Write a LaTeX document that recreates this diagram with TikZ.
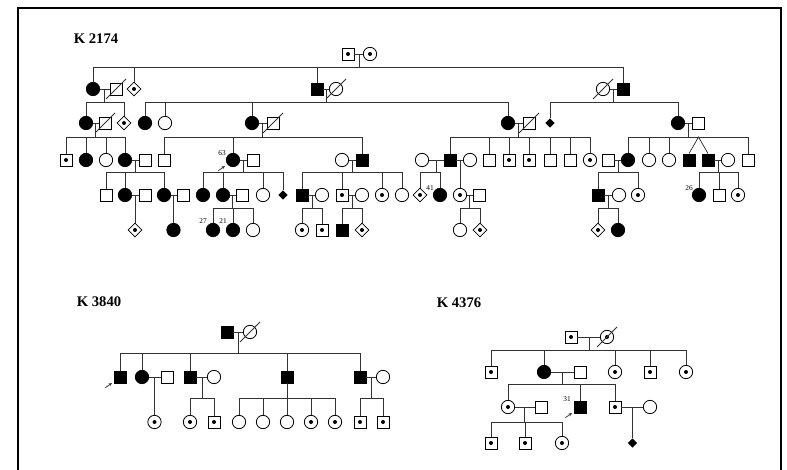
\documentclass[tikz,border=0pt]{standalone}
\usepackage{fontspec}
\setmainfont{Liberation Serif}
\usetikzlibrary{shapes.geometric,calc,arrows.meta}
\newcommand{\pedbar}[4]{%
  \draw[ln] (#1) -- (#1 |- 0,#2);
  \draw[ln] (#3.north |- 0,#2) -- (#4.north |- 0,#2);}
\newcommand{\pedup}[2]{\foreach \kid in {#2} {\draw[ln] (\kid.north) -- (\kid.north |- 0,#1);}}
\newcommand{\pdec}[1]{\draw[ln] ([shift={(-7.5pt,-7.5pt)}]#1.center) -- ([shift={(7.5pt,7.5pt)}]#1.center);}
\newcommand{\pmar}[2]{\draw[ln] (#1) -- (#2);}
\newcommand{\parr}[1]{\draw[ln,-{Stealth[length=2.6pt,width=2.2pt]}] ([shift={(-11pt,-8pt)}]#1.center) -- ([shift={(-6pt,-4.5pt)}]#1.center);}
\begin{document}
\begin{tikzpicture}[x=0.75pt,y=-0.75pt,
  ln/.style={line width=0.55pt,black!80},
  sq/.style={rectangle,draw,line width=0.6pt,minimum size=9pt,inner sep=0pt,fill=white},
  ci/.style={circle,draw,line width=0.6pt,minimum size=10pt,inner sep=0pt,fill=white},
  di/.style={diamond,draw,line width=0.6pt,minimum size=10.5pt,inner sep=0pt,fill=white},
  sdi/.style={diamond,fill=black,minimum size=7pt,inner sep=0pt},
  aff/.style={fill=black},
  car/.style={path picture={\fill[black] (path picture bounding box.center) circle (1.5pt);}},
  lab/.style={font=\fontsize{5.5}{6}\selectfont,inner sep=0pt},
  ttl/.style={font=\bfseries\fontsize{11}{13}\selectfont,inner sep=0pt}]
\useasboundingbox (0,0) rectangle (787,470);
\fill[white] (0,0) rectangle (787,470);
\draw[line width=1.4pt] (18,471) -- (18,8) -- (781,8) -- (781,471);

% ================= K 2174 =================
\node[ttl] (t1) at (96,39) {K 2174};
% Gen I
\node[sq,car] (p1) at (348,54) {};
\node[ci,car] (p2) at (370,54) {};
\pmar{p1}{p2}
% Gen II
\node[ci,aff] (a1) at (93,89) {};
\node[sq] (a2) at (116,89) {}; \pdec{a2}
\node[di,car] (a3) at (134,89) {};
\node[sq,aff] (a4) at (317,89) {};
\node[ci] (a5) at (336,89) {}; \pdec{a5}
\node[ci] (a6) at (603,89) {}; \pdec{a6}
\node[sq,aff] (a7) at (623,89) {};
\pmar{a1}{a2} \pmar{a4}{a5} \pmar{a6}{a7}
\coordinate (m0) at ($(p1)!0.5!(p2)$);
\pedbar{m0}{67}{a1}{a7} \pedup{67}{a1,a3,a4,a7}
% Gen III
\node[ci,aff] (b1) at (86,123) {};
\node[sq] (b2) at (105,123) {}; \pdec{b2}
\node[di,car] (b3) at (124,123) {};
\node[ci,aff] (b4) at (145,123) {};
\node[ci] (b5) at (165,123) {};
\node[ci,aff] (b6) at (252,123) {};
\node[sq] (b7) at (273,123) {}; \pdec{b7}
\node[ci,aff] (b8) at (508,123) {};
\node[sq] (b9) at (529,123) {}; \pdec{b9}
\node[sdi] (b10) at (550,123) {};
\node[ci,aff] (b11) at (678,123) {};
\node[sq] (b12) at (698,123) {};
\pmar{b1}{b2} \pmar{b6}{b7} \pmar{b8}{b9} \pmar{b11}{b12}
\coordinate (m1) at ($(a1)!0.5!(a2)$);
\coordinate (m2) at ($(a4)!0.5!(a5)$);
\coordinate (m3) at ($(a6)!0.5!(a7)$);
\pedbar{m1}{102}{b1}{b3} \pedup{102}{b1,b3}
\pedbar{m2}{102}{b4}{b8} \pedup{102}{b4,b5,b6,b8}
\pedbar{m3}{102}{b10}{b11} \pedup{102}{b10,b11}
% Gen IV
\node[sq,car] (c1) at (66,160) {};
\node[ci,aff] (c2) at (86,160) {};
\node[ci] (c3) at (106,160) {};
\node[ci,aff] (c4) at (125,160) {};
\node[sq] (c5) at (145,160) {};
\node[sq] (c6) at (164,160) {};
\node[ci,aff] (c7) at (233,160) {};
\node[sq] (c8) at (253,160) {};
\node[ci] (c9) at (342,160) {};
\node[sq,aff] (c10) at (362,160) {};
\node[ci] (c11) at (422,160) {};
\node[sq,aff] (c12) at (450,160) {};
\node[ci] (c13) at (470,160) {};
\node[sq] (c14) at (489,160) {};
\node[sq,car] (c15) at (509,160) {};
\node[sq,car] (c16) at (529,160) {};
\node[sq] (c17) at (550,160) {};
\node[sq] (c27) at (570,160) {};
\node[ci,car] (c18) at (590,160) {};
\node[sq] (c19) at (608,160) {};
\node[ci,aff] (c20) at (628,160) {};
\node[ci] (c21) at (649,160) {};
\node[ci] (c22) at (669,160) {};
\node[sq,aff] (c23) at (689,160) {};
\node[sq,aff] (c24) at (708,160) {};
\node[ci] (c25) at (728,160) {};
\node[sq] (c26) at (748,160) {};
\pmar{c4}{c5} \pmar{c7}{c8} \pmar{c9}{c10} \pmar{c11}{c12} \pmar{c12}{c13}
\pmar{c19}{c20} \pmar{c24}{c25}
\coordinate (m4) at ($(b1)!0.5!(b2)$);
\coordinate (m5) at ($(b6)!0.5!(b7)$);
\coordinate (m6) at ($(b8)!0.5!(b9)$);
\coordinate (m7) at ($(b11)!0.5!(b12)$);
\pedbar{m4}{137}{c1}{c4} \pedup{137}{c1,c2,c3,c4}
\pedbar{m5}{137}{c6}{c10} \pedup{137}{c6,c7,c10}
\pedbar{m6}{137}{c12}{c18} \pedup{137}{c12,c14,c15,c16,c17,c27,c18}
\pedbar{m7}{137}{c20}{c26} \pedup{137}{c20,c21,c22,c26}
\coordinate (tw) at (698.5,137);
\draw[ln] (c23.north) -- (tw) -- (c24.north);
\node[lab] (l63) at (222,153) {63};
\parr{c7}
% Gen V
\node[sq] (d1) at (106,195) {};
\node[ci,aff] (d2) at (125,195) {};
\node[sq] (d3) at (145,195) {};
\node[ci,aff] (d4) at (164,195) {};
\node[sq] (d5) at (183,195) {};
\node[ci,aff] (d6) at (203,195) {};
\node[ci,aff] (d7) at (223,195) {};
\node[sq] (d8) at (242,195) {};
\node[ci] (d9) at (263,195) {};
\node[sdi] (d10) at (283,195) {};
\node[sq,aff] (d11) at (302,195) {};
\node[ci] (d12) at (322,195) {};
\node[sq,car] (d13) at (342,195) {};
\node[ci] (d14) at (362,195) {};
\node[ci,car] (d15) at (382,195) {};
\node[ci] (d16) at (402,195) {};
\node[di,car] (d17) at (420,195) {};
\node[ci,aff] (d18) at (440,195) {};
\node[ci,car] (d19) at (460,195) {};
\node[sq] (d20) at (479,195) {};
\node[sq,aff] (d21) at (598,195) {};
\node[ci] (d22) at (619,195) {};
\node[ci,car] (d23) at (638,195) {};
\node[ci,aff] (d24) at (699,195) {};
\node[sq] (d25) at (719,195) {};
\node[ci,car] (d26) at (738,195) {};
\pmar{d2}{d3} \pmar{d4}{d5} \pmar{d7}{d8} \pmar{d11}{d12} \pmar{d13}{d14}
\pmar{d19}{d20} \pmar{d21}{d22}
\coordinate (m8) at ($(c4)!0.5!(c5)$);
\coordinate (m9) at ($(c7)!0.5!(c8)$);
\coordinate (m10) at ($(c9)!0.5!(c10)$);
\coordinate (m11) at ($(c11)!0.5!(c12)$);
\coordinate (m12) at ($(c12)!0.5!(c13)$);
\coordinate (m13) at ($(c19)!0.5!(c20)$);
\coordinate (m14) at ($(c24)!0.5!(c25)$);
\pedbar{m8}{172}{d1}{d4} \pedup{172}{d1,d2,d4}
\pedbar{m9}{172}{d6}{d10} \pedup{172}{d6,d7,d9,d10}
\pedbar{m10}{172}{d11}{d16} \pedup{172}{d11,d13,d15,d16}
\pedbar{m11}{172}{d17}{d18} \pedup{172}{d17,d18}
\draw[ln] (m12) -- (d19.north);
\pedbar{m13}{172}{d21}{d23} \pedup{172}{d21,d23}
\pedbar{m14}{172}{d24}{d26} \pedup{172}{d24,d25,d26}
\node[lab] (l41) at (430,188) {41};
\node[lab] (l26) at (689,188) {26};
% Gen VI
\coordinate (m15) at ($(d2)!0.5!(d3)$);
\coordinate (m16) at ($(d4)!0.5!(d5)$);
\coordinate (m17) at ($(d7)!0.5!(d8)$);
\coordinate (m18) at ($(d11)!0.5!(d12)$);
\coordinate (m19) at ($(d13)!0.5!(d14)$);
\coordinate (m20) at ($(d19)!0.5!(d20)$);
\coordinate (m21) at ($(d21)!0.5!(d22)$);
\node[di,car] (e1) at (135,230) {};
\node[ci,aff] (e2) at (173.5,230) {};
\node[ci,aff] (e3) at (213,230) {};
\node[ci,aff] (e4) at (233,230) {};
\node[ci] (e5) at (253,230) {};
\node[ci,car] (e6) at (302,230) {};
\node[sq,car] (e7) at (322,230) {};
\node[sq,aff] (e8) at (342,230) {};
\node[di,car] (e9) at (362,230) {};
\node[ci] (e10) at (460,230) {};
\node[di,car] (e11) at (480,230) {};
\node[di,car] (e12) at (598,230) {};
\node[ci,aff] (e13) at (618,230) {};
\draw[ln] (m15) -- (e1.north);
\draw[ln] (m16) -- (e2.north);
\pedbar{m17}{208}{e3}{e5} \pedup{208}{e3,e4,e5}
\pedbar{m18}{208}{e6}{e7} \pedup{208}{e6,e7}
\pedbar{m19}{208}{e8}{e9} \pedup{208}{e8,e9}
\pedbar{m20}{208}{e10}{e11} \pedup{208}{e10,e11}
\pedbar{m21}{208}{e12}{e13} \pedup{208}{e12,e13}
\node[lab] (l27) at (203,221) {27};
\node[lab] (l21) at (223,221) {21};

% ================= K 3840 =================
\node[ttl] (t2) at (99,302) {K 3840};
\node[sq,aff] (g1) at (227,332) {};
\node[ci] (g2) at (250,332) {}; \pdec{g2}
\pmar{g1}{g2}
\node[sq,aff] (h1) at (120,377) {};
\node[ci,aff] (h2) at (142,377) {};
\node[sq] (h3) at (167,377) {};
\node[sq,aff] (h4) at (190,377) {};
\node[ci] (h5) at (214,377) {};
\node[sq,aff] (h6) at (287,377) {};
\node[sq,aff] (h7) at (360,377) {};
\node[ci] (h8) at (383,377) {};
\pmar{h2}{h3} \pmar{h4}{h5} \pmar{h7}{h8}
\coordinate (q0) at ($(g1)!0.5!(g2)$);
\pedbar{q0}{353}{h1}{h7} \pedup{353}{h1,h2,h4,h6,h7}
\parr{h1}
\node[ci,car] (i1) at (154.5,422) {};
\node[ci,car] (i2) at (190,422) {};
\node[sq,car] (i3) at (214,422) {};
\node[ci] (i4) at (239,422) {};
\node[ci] (i5) at (263,422) {};
\node[ci] (i6) at (287,422) {};
\node[ci,car] (i7) at (311,422) {};
\node[ci,car] (i8) at (335,422) {};
\node[sq,car] (i9) at (360,422) {};
\node[sq,car] (i10) at (383,422) {};
\coordinate (q1) at ($(h2)!0.5!(h3)$);
\coordinate (q2) at ($(h4)!0.5!(h5)$);
\coordinate (q3) at ($(h7)!0.5!(h8)$);
\draw[ln] (q1) -- (i1.north);
\pedbar{q2}{398}{i2}{i3} \pedup{398}{i2,i3}
\pedbar{h6.south}{398}{i4}{i8} \pedup{398}{i4,i5,i6,i7,i8}
\pedbar{q3}{398}{i9}{i10} \pedup{398}{i9,i10}

% ================= K 4376 =================
\node[ttl] (t3) at (459,303) {K 4376};
\node[sq,car] (j1) at (571,337) {};
\node[ci,car] (j2) at (607,337) {}; \pdec{j2}
\pmar{j1}{j2}
\node[sq,car] (k1) at (491,372) {};
\node[ci,aff] (k2) at (544,372) {};
\node[sq] (k3) at (580,372) {};
\node[ci,car] (k4) at (615,372) {};
\node[sq,car] (k5) at (650,372) {};
\node[ci,car] (k6) at (686,372) {};
\pmar{k2}{k3}
\coordinate (r0) at ($(j1)!0.5!(j2)$);
\pedbar{r0}{350}{k1}{k6} \pedup{350}{k1,k2,k4,k5,k6}
\node[ci,car] (l1) at (508,407) {};
\node[sq] (l2) at (541,407) {};
\node[sq,aff] (l3) at (580,407) {};
\node[sq,car] (l4) at (615,407) {};
\node[ci] (l5) at (650,407) {};
\pmar{l1}{l2} \pmar{l4}{l5}
\coordinate (r1) at ($(k2)!0.5!(k3)$);
\pedbar{r1}{384}{l1}{l4} \pedup{384}{l1,l3,l4}
\node[lab] (l31) at (567,399) {31};
\parr{l3}
\node[sq,car] (n1) at (491,443) {};
\node[sq,car] (n2) at (525,443) {};
\node[ci,car] (n3) at (562,443) {};
\node[sdi] (n4) at (632.5,443) {};
\coordinate (r2) at ($(l1)!0.5!(l2)$);
\coordinate (r3) at ($(l4)!0.5!(l5)$);
\pedbar{r2}{422}{n1}{n3} \pedup{422}{n1,n2,n3}
\draw[ln] (r3) -- (n4.north);
\end{tikzpicture}
\end{document}
